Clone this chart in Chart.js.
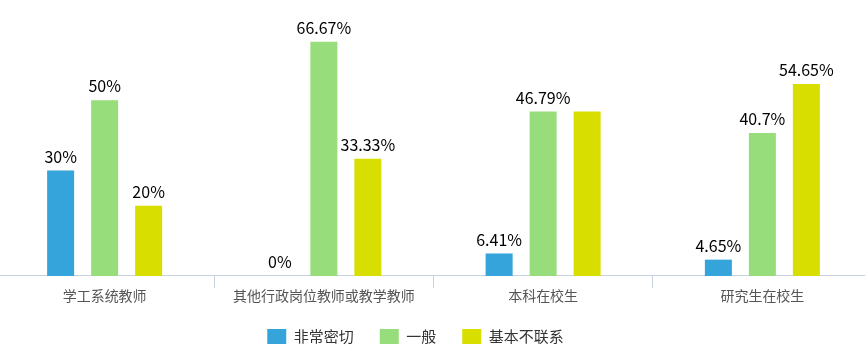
<!DOCTYPE html>
<html><head><meta charset="utf-8">
<script src="https://cdn.jsdelivr.net/npm/chart.js@4/dist/chart.umd.min.js"></script>
<style>
html,body{margin:0;padding:0;background:#fff;overflow:hidden;width:865px;height:354px;}
#wrap{position:absolute;left:-5px;top:0;width:877px;height:354px;}
</style></head><body>
<div id="wrap"><canvas id="c"></canvas></div>
<script>
const categories = ['学工系统教师', '其他行政岗位教师或教学教师', '本科在校生', '研究生在校生'];
const seriesNames = ['非常密切', '一般', '基本不联系'];
const veryClose = [30, 0, 6.41, 4.65];
const general = [50, 66.67, 46.79, 40.7];
const noContact = [20, 33.33, 46.8, 54.65];
const seriesColors = ['#34a4db', '#97dd7b', '#d8df00'];

const FONT = '"Noto Sans CJK SC", "Microsoft YaHei", sans-serif';

const barLabels = {
  id: 'barLabels',
  afterDatasetsDraw(chart) {
    const ctx = chart.ctx;
    ctx.save();
    ctx.font = '16px ' + FONT;
    ctx.fillStyle = '#000';
    ctx.textAlign = 'center';
    ctx.textBaseline = 'bottom';
    const drawn = [];
    chart.data.datasets.forEach((ds, di) => {
      const meta = chart.getDatasetMeta(di);
      meta.data.forEach((el, i) => {
        const txt = ds.data[i] + '%';
        const w = ctx.measureText(txt).width;
        const x = el.x, y = el.y - 6;
        const box = {l: x - w / 2, r: x + w / 2, t: y - 17, b: y};
        const hit = drawn.some(d => box.l < d.r && box.r > d.l && box.t < d.b && box.b > d.t);
        if (hit) return;
        drawn.push(box);
        ctx.fillText(txt, x, y);
      });
    });
    ctx.restore();
  }
};

const legendShift = {
  id: 'legendShift',
  afterLayout(chart) {
    chart.legend.left -= 18;
    chart.legend.right -= 18;
  }
};

new Chart(document.getElementById('c'), {
  type: 'bar',
  data: {
    labels: categories,
    datasets: [
      {label: seriesNames[0], data: veryClose, backgroundColor: seriesColors[0]},
      {label: seriesNames[1], data: general, backgroundColor: seriesColors[1]},
      {label: seriesNames[2], data: noContact, backgroundColor: seriesColors[2]}
    ]
  },
  options: {
    responsive: true,
    maintainAspectRatio: false,
    animation: false,
    layout: {padding: {top: 30, left: 0, right: 0, bottom: 0}},
    datasets: {bar: {categoryPercentage: 0.602, barPercentage: 0.614}},
    scales: {
      x: {
        grid: {display: true, offset: true, drawOnChartArea: false, drawTicks: true, tickLength: 12, color: '#c8d2e0'},
        border: {display: true, color: '#c8d2e0', width: 1},
        ticks: {color: '#555', font: {family: FONT, size: 14, lineHeight: 0.93}, padding: 1}
      },
      y: {display: false, min: 0, max: 70}
    },
    plugins: {
      tooltip: {enabled: false},
      legend: {
        position: 'bottom',
        labels: {boxWidth: 19, boxHeight: 15, padding: 26, color: '#333', font: {family: FONT, size: 15}}
      }
    }
  },
  plugins: [barLabels, legendShift]
});
</script>
</body></html>
